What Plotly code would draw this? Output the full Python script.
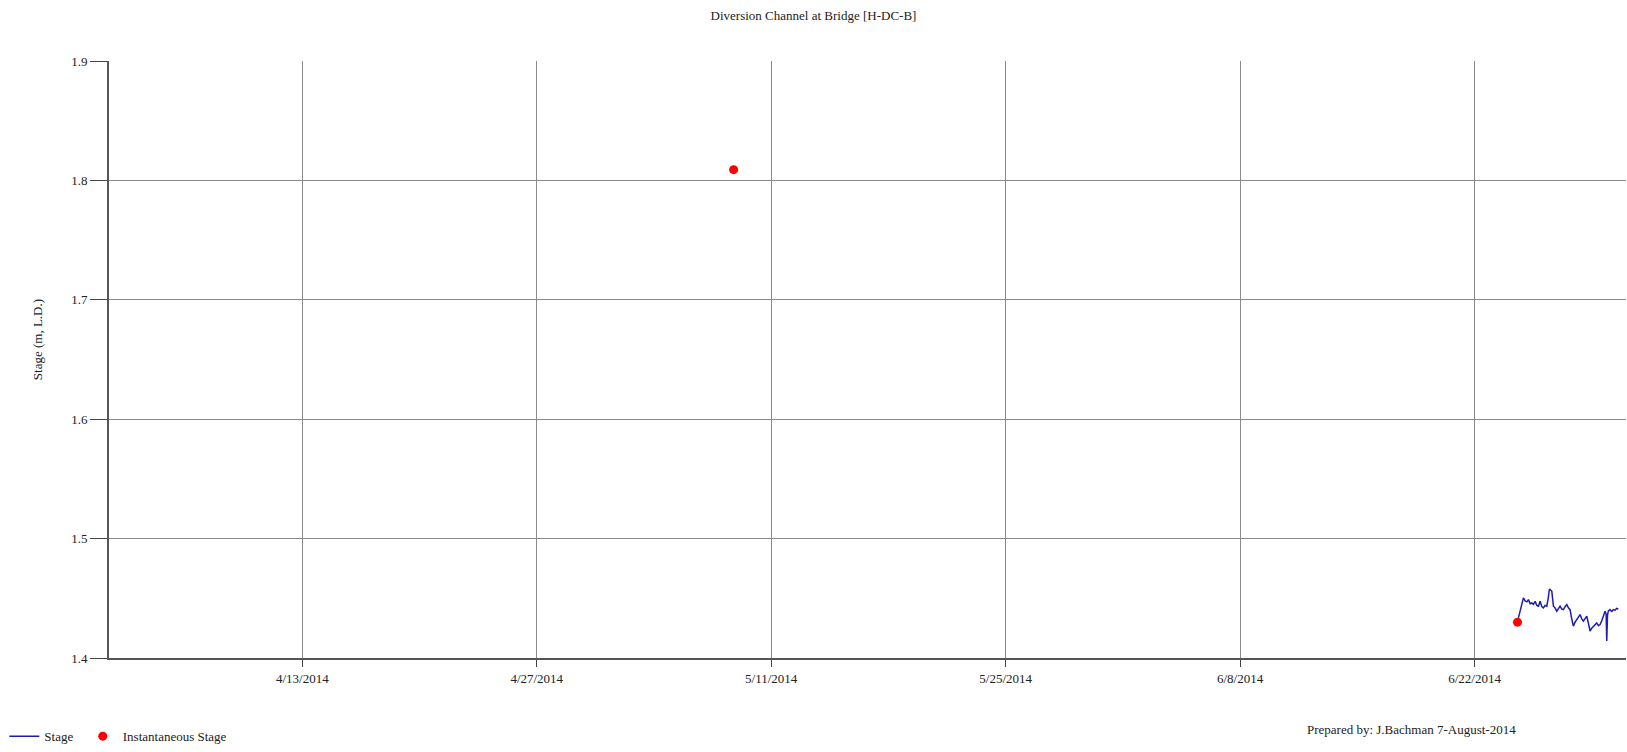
import plotly.graph_objects as go

# Continuous logger record (Stage, m L.D.)
stage_times = [
    "2014-06-24 14:50", "2014-06-24 17:30", "2014-06-24 19:40", "2014-06-24 22:00",
    "2014-06-25 00:30", "2014-06-25 03:00", "2014-06-25 05:10", "2014-06-25 07:40",
    "2014-06-25 10:00", "2014-06-25 12:20", "2014-06-25 14:45", "2014-06-25 17:10",
    "2014-06-25 19:30", "2014-06-25 21:55", "2014-06-26 00:20", "2014-06-26 02:40",
    "2014-06-26 05:00", "2014-06-26 07:30", "2014-06-26 09:30", "2014-06-26 11:15",
    "2014-06-26 13:00", "2014-06-26 14:40", "2014-06-26 17:00", "2014-06-26 19:20",
    "2014-06-26 21:50", "2014-06-27 00:10", "2014-06-27 02:30", "2014-06-27 05:00",
    "2014-06-27 07:15", "2014-06-27 09:40", "2014-06-27 12:10", "2014-06-27 14:30",
    "2014-06-27 16:50", "2014-06-27 19:10", "2014-06-27 21:35", "2014-06-28 00:00",
    "2014-06-28 02:30", "2014-06-28 04:50", "2014-06-28 07:10", "2014-06-28 09:30",
    "2014-06-28 11:55", "2014-06-28 14:20", "2014-06-28 16:45", "2014-06-28 19:10",
    "2014-06-28 21:30", "2014-06-28 23:50", "2014-06-29 02:15", "2014-06-29 04:40",
    "2014-06-29 07:05", "2014-06-29 09:30", "2014-06-29 11:50", "2014-06-29 14:10",
    "2014-06-29 16:30", "2014-06-29 19:00", "2014-06-29 20:30", "2014-06-29 21:25",
    "2014-06-29 22:30", "2014-06-29 23:40", "2014-06-30 02:00", "2014-06-30 04:35",
    "2014-06-30 07:00", "2014-06-30 09:15", "2014-06-30 11:40", "2014-06-30 14:00",
]
stage_values = [
    1.4336, 1.4400, 1.4447, 1.4503,
    1.4478, 1.4470, 1.4489, 1.4455,
    1.4461, 1.4450, 1.4475, 1.4440,
    1.4434, 1.4475, 1.4430, 1.4419,
    1.4440, 1.4434, 1.4500, 1.4578,
    1.4570, 1.4559, 1.4434, 1.4420,
    1.4392, 1.4420, 1.4434, 1.4410,
    1.4405, 1.4430, 1.4447, 1.4420,
    1.4405, 1.4330, 1.4267, 1.4300,
    1.4322, 1.4345, 1.4364, 1.4330,
    1.4309, 1.4330, 1.4350, 1.4290,
    1.4225, 1.4250, 1.4267, 1.4280,
    1.4294, 1.4270, 1.4280, 1.4310,
    1.4350, 1.4392, 1.4370, 1.4142,
    1.4360, 1.4392, 1.4405, 1.4390,
    1.4405, 1.4400, 1.4415, 1.4411,
]

# Manual (instantaneous) stage readings
inst_times = ["2014-05-08 18:10", "2014-06-24 13:30"]
inst_values = [1.809, 1.430]

x_range = ["2014-04-01 11:00", "2014-07-01 01:00"]
y_range = [1.4, 1.9]

FONT = "Liberation Serif"
TXT = "#222222"

fig = go.Figure()
fig.add_trace(go.Scatter(
    x=stage_times, y=stage_values, mode="lines", name="Stage",
    line=dict(color="#1c1cb0", width=1.5), legend="legend",
))
fig.add_trace(go.Scatter(
    x=inst_times, y=inst_values, mode="markers", name="Instantaneous Stage",
    marker=dict(color="#ff0000", size=9), legend="legend2",
))

legend_style = dict(
    orientation="h", xanchor="left", y=-0.131, yanchor="middle",
    font=dict(family=FONT, size=13, color=TXT),
    itemwidth=30, bgcolor="rgba(0,0,0,0)",
)

fig.update_layout(
    width=1627, height=752,
    margin=dict(l=109, r=1, t=61, b=92),
    paper_bgcolor="white", plot_bgcolor="white",
    font=dict(family=FONT, size=13, color=TXT),
    title=dict(
        text="Diversion Channel at Bridge [H-DC-B]",
        x=0.5, xanchor="center", y=1 - 15 / 752, yanchor="middle",
        font=dict(family=FONT, size=13, color=TXT),
    ),
    showlegend=True,
    legend=dict(x=-0.069, **legend_style),
    legend2=dict(x=-0.0173, **legend_style),
    xaxis=dict(
        type="date", range=x_range,
        tick0="2014-04-13", dtick=14 * 24 * 3600 * 1000,
        tickformat="%-m/%-d/%Y",
        ticks="outside", ticklen=7, tickcolor="#444444",
        showgrid=True, gridcolor="#8a8a8a", gridwidth=1,
        showline=True, linecolor="#555555", linewidth=2,
        zeroline=False,
        tickfont=dict(family=FONT, size=13, color=TXT),
    ),
    yaxis=dict(
        range=y_range, dtick=0.1, tickformat=".1f",
        ticks="outside", ticklen=17, tickcolor="#444444",
        showgrid=True, gridcolor="#8a8a8a", gridwidth=1,
        showline=True, linecolor="#555555", linewidth=2,
        zeroline=False,
        tickfont=dict(family=FONT, size=13, color=TXT),
    ),
    annotations=[
        dict(
            text="Stage (m, L.D.)", textangle=-90,
            xref="paper", yref="paper", x=-0.0475, y=0.534,
            xanchor="center", yanchor="middle", showarrow=False,
            font=dict(family=FONT, size=13, color=TXT),
        ),
        dict(
            text="Prepared by: J.Bachman 7-August-2014",
            xref="paper", yref="paper", x=(1305 - 109) / 1517, y=(660.3 - 732) / 599.6,
            xanchor="left", yanchor="middle", showarrow=False,
            font=dict(family=FONT, size=13, color=TXT),
        ),
    ],
)

fig.write_html("out.html")
